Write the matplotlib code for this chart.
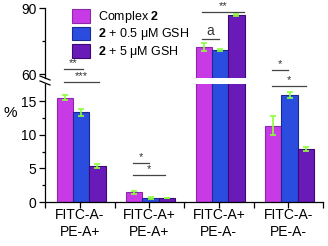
import matplotlib
matplotlib.use("Agg")
import matplotlib.pyplot as plt
import numpy as np

plt.rcParams['font.family'] = ['Liberation Sans', 'DejaVu Sans']
plt.rcParams['mathtext.fontset'] = 'custom'
plt.rcParams['mathtext.rm'] = 'Liberation Sans'
plt.rcParams['mathtext.bf'] = 'Liberation Sans:bold'

groups = ['FITC-A-\nPE-A+', 'FITC-A+\nPE-A+', 'FITC-A+\nPE-A-', 'FITC-A-\nPE-A-']
series = ['Complex $\\mathbf{2}$', '$\\mathbf{2}$ + 0.5 μM GSH', '$\\mathbf{2}$ + 5 μM GSH']
values = [
    [15.5, 1.45, 72.3, 11.3],
    [13.3, 0.6, 71.0, 15.9],
    [5.3, 0.6, 87.0, 7.9],
]
errors = [
    [0.4, 0.2, 1.7, 1.4],
    [0.5, 0.1, 0.3, 0.4],
    [0.3, 0.05, 0.4, 0.3],
]
# significance brackets: x0, x1, y (lower axis units), label
brackets_low = [
    (-0.23, 0.04, 19.8, '**'),
    (-0.23, 0.27, 17.8, '***'),
    (0.76, 1.0, 5.8, '*'),
    (0.76, 1.22, 4.0, '*'),
    (2.76, 3.0, 19.6, '*'),
    (2.76, 3.25, 17.2, '*'),
]
brackets_up = [
    (1.755, 2.0, 76.0, 'a'),
    (1.755, 2.36, 88.3, '**'),
]

colors = ['#c83ae6', '#2a4de0', '#6a1ab8']
edges = ['#8a2aa8', '#1a2a90', '#3a0a70']
errc = '#8cff3a'

fig = plt.figure(figsize=(3.28, 2.46), dpi=100)
L, R = 45 / 328, 323 / 328
ax_lo = fig.add_axes([L, 44 / 246, R - L, (202 - 83.5) / 246])
ax_hi = fig.add_axes([L, (246 - 78.4) / 246, R - L, (78.4 - 8.3) / 246])
ax_hi.patch.set_visible(False)

x = np.arange(len(groups))
w = 0.235
for ax in (ax_lo, ax_hi):
    for i in range(3):
        xs = x + 0.02 + (i - 1) * w
        ax.bar(xs, values[i], w, color=colors[i], edgecolor=edges[i], linewidth=0.8,
               label=series[i])
        ax.errorbar(xs, values[i], yerr=errors[i], fmt='none', ecolor=errc,
                    elinewidth=1.2, capsize=2.5, capthick=1.2)
    ax.set_xlim(-0.5, 3.5)
    ax.spines['top'].set_visible(False)
    ax.spines['right'].set_visible(False)
    ax.tick_params(axis='y', direction='out', length=4, width=0.9, labelsize=10, pad=2)
    ax.tick_params(axis='y', which='minor', direction='out', length=2.5, width=0.9)
    ax.spines['left'].set_linewidth(0.9)

ax_lo.set_ylim(0, 17.6)
ax_lo.set_yticks([0, 5, 10, 15])
ax_lo.set_yticks([2.5, 7.5, 12.5], minor=True)
ax_lo.set_xticks(x)
ax_lo.set_xticklabels(groups, fontsize=10, linespacing=1.3)
ax_lo.set_xticks(np.arange(-0.5, 3.6, 1.0), minor=True)
ax_lo.tick_params(axis='x', which='both', direction='out', length=4, width=0.9, pad=0)
ax_lo.spines['bottom'].set_linewidth(0.9)

ax_hi.set_ylim(58, 90)
ax_hi.set_yticks([60, 90])
ax_hi.set_yticks([75], minor=True)
ax_hi.spines['bottom'].set_visible(False)
ax_hi.set_xticks([])

for x0, x1, y, t in brackets_low:
    ax_lo.plot([x0, x1], [y, y], color='#444444', lw=0.9, clip_on=False, zorder=5)
    ax_lo.text((x0 + x1) / 2, y + 0.1, t, ha='center', va='bottom', fontsize=8, color='#333333')
for x0, x1, y, t in brackets_up:
    ax_hi.plot([x0, x1], [y, y], color='#444444', lw=0.9, clip_on=False, zorder=5)
    ax_hi.text((x0 + x1) / 2, y + 0.3, t, ha='center', va='bottom', fontsize=8 if t != 'a' else 10,
               color='#333333')

# break marks on the y axis
for yy in (78.0, 83.0):
    fig.add_artist(plt.Line2D([40 / 328, 50 / 328], [(246 - yy + 2) / 246, (246 - yy - 2) / 246],
                              color='black', lw=0.9))

fig.text(10 / 328, 1 - 113 / 246, '%', fontsize=11, ha='center', va='center')

h, lab = ax_lo.get_legend_handles_labels()
fig.legend(h, lab, loc='upper left', bbox_to_anchor=(67 / 328, 1 - 4 / 246), frameon=False,
           fontsize=9, handlelength=1.45, handleheight=1.3, handletextpad=0.6,
           labelspacing=0.12, borderaxespad=0)

fig.savefig('out.png', dpi=100)
